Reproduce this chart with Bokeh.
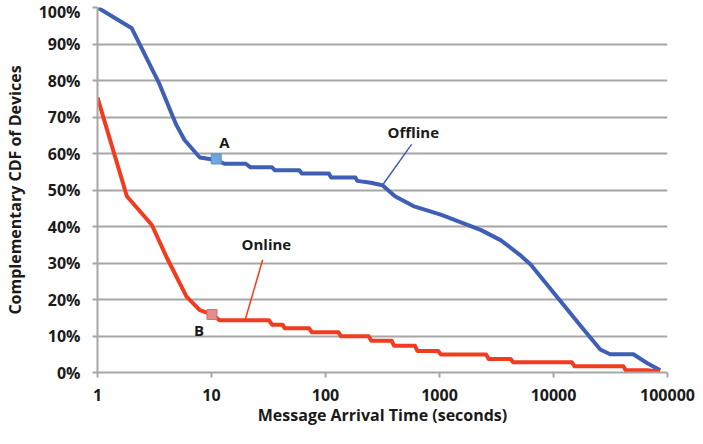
from bokeh.plotting import figure
from bokeh.models import FixedTicker, Label, Range1d
from bokeh.embed import file_html
from bokeh.resources import INLINE

# ---- data ----
offline_x = [1, 2, 3.5, 4.9, 5.8, 7.9, 11, 13, 20, 22, 34, 36, 59, 62, 107, 112, 183, 190, 250, 316, 407, 589,
             1040, 2320, 3460, 5170, 6300, 8830, 17200, 25700, 31400, 50200, 66000, 86300]
offline_y = [100, 94.3, 79, 67.9, 63.7, 58.9, 58.2, 57.2, 57.2, 56.2, 56.2, 55.4, 55.4, 54.5, 54.5, 53.4, 53.4, 52.5, 52.0, 51.3, 48.3, 45.6,
             43.2, 39.0, 36.2, 32.0, 29.6, 24.0, 12.9, 6.3, 5.0, 5.0, 2.6, 0.6]

online_x = [1, 1.81, 3.0, 4.05, 6.04, 7.9, 10.1, 11.8, 19.7, 32, 34, 42, 44, 72, 76, 130, 137, 240, 252, 380, 400,
            610, 640, 975, 1030, 2570, 2700, 4210, 4420, 14500, 15300, 41000, 43000, 66000, 86000]
online_y = [75.3, 48.3, 40.4, 31.5, 20.8, 17.1, 15.9, 14.3, 14.3, 14.3, 13.1, 13.1, 12.1, 12.1, 11.0, 11.0, 9.9, 9.9, 8.7, 8.7, 7.3,
            7.3, 5.9, 5.9, 4.9, 4.9, 3.7, 3.7, 2.8, 2.8, 1.7, 1.7, 0.6, 0.6, 0.3]

point_a = (11.0, 58.5)
point_b = (10.1, 15.9)

x_ticks = [1, 10, 100, 1000, 10000, 100000]
x_tick_labels = ["1", "10", "100", "1000", "10000", "100000"]
y_ticks = [0, 10, 20, 30, 40, 50, 60, 70, 80, 90, 100]
y_tick_labels = ["0%", "10%", "20%", "30%", "40%", "50%", "60%", "70%", "80%", "90%", "100%"]

x_title = "Message Arrival Time (seconds)"
y_title = "Complementary CDF of Devices"

# ---- styles ----
FONT = "Open Sans"
TXT = "#1a1a1a"
BLUE = "#3f5fb4"
RED = "#f23b1f"
GRID = "#a6a6a6"

p = figure(width=695, height=428, x_axis_type="log",
           x_range=Range1d(1, 100000), y_range=Range1d(0, 100),
           output_backend="svg", toolbar_location=None,
           min_border_left=89, min_border_right=28, min_border_top=7, min_border_bottom=10)

p.outline_line_color = None
p.background_fill_color = "white"
p.border_fill_color = "white"
p.xgrid.grid_line_color = None
p.ygrid.grid_line_color = GRID
p.ygrid.grid_line_width = 2

p.xaxis.ticker = FixedTicker(ticks=x_ticks, minor_ticks=[])
p.xaxis.major_label_overrides = {t: l for t, l in zip(x_ticks, x_tick_labels)}
p.yaxis.ticker = FixedTicker(ticks=y_ticks, minor_ticks=[])
p.yaxis.major_label_overrides = {t: l for t, l in zip(y_ticks, y_tick_labels)}

for ax in (p.xaxis, p.yaxis):
    ax.axis_line_color = GRID
    ax.axis_line_width = 2
    ax.major_tick_line_color = GRID
    ax.major_tick_line_width = 2
    ax.major_tick_out = 5
    ax.major_tick_in = 0
    ax.minor_tick_line_color = None
    ax.major_label_text_font = FONT
    ax.major_label_text_font_style = "bold"
    ax.major_label_text_font_size = "16px"
    ax.major_label_text_color = TXT
    ax.axis_label_text_font = FONT
    ax.axis_label_text_font_style = "bold"
    ax.axis_label_text_font_size = "16px"
    ax.axis_label_text_color = TXT

p.xaxis.axis_label = x_title
p.yaxis.axis_label = y_title
p.xaxis.major_label_standoff = 11
p.xaxis.axis_label_standoff = 0
p.yaxis.major_label_standoff = 12
p.yaxis.axis_label_standoff = 10

# curves
p.line(offline_x, offline_y, line_color=BLUE, line_width=4, line_join="round")
p.line(online_x, online_y, line_color=RED, line_width=4, line_join="round")

# leader lines (from label to the curve point)
p.line([569, offline_x[19]], [62.5, offline_y[19]], line_color=BLUE, line_width=1.5)
p.line([28.1, online_x[8]], [30.9, online_y[8]], line_color=RED, line_width=1.5)

# highlighted points
p.scatter([point_a[0]], [point_a[1]], marker="square", size=10,
          fill_color="#6fa6dc", line_color="#5b8fd0", line_width=1)
p.scatter([point_b[0]], [point_b[1]], marker="square", size=10,
          fill_color="#e48b8b", line_color="#d07070", line_width=1)

def lab(x, y, t):
    p.add_layout(Label(x=x, y=y, text=t, text_font=FONT, text_font_style="bold",
                       text_font_size="15px", text_color=TXT,
                       text_align="center", text_baseline="middle"))

lab(13.0, 63.2, "A")
lab(7.78, 11.7, "B")
lab(589, 65.9, "Offline")
lab(30.3, 35.1, "Online")

open("out.html", "w").write(file_html(p, INLINE))
